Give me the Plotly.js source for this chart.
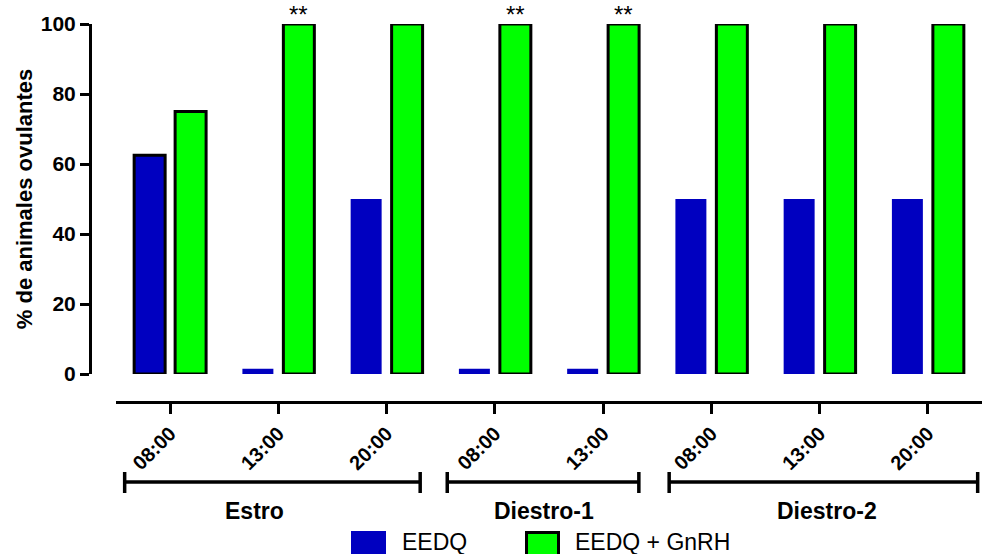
<!DOCTYPE html>
<html>
<head>
<meta charset="utf-8">
<script src="https://cdn.plot.ly/plotly-3.0.1.min.js"></script>
<style>
  html, body { margin: 0; padding: 0; background: #fff; }
  #chart { width: 982px; height: 554px; }
</style>
</head>
<body>
<div id="chart"></div>
<script>
// Time of day for each sampled group
const timeLabels = ['08:00', '13:00', '20:00', '08:00', '13:00', '08:00', '13:00', '20:00'];
// Cycle stage each time point belongs to
const stageNames = ['Estro', 'Diestro-1', 'Diestro-2'];
const stageSizes = [3, 2, 3];
// % of ovulating animals
const eedq      = [62.5, 1.5, 50, 1.5, 1.5, 50, 50, 50];
const eedqGnrh  = [75, 100, 100, 100, 100, 100, 100, 100];
// Significance marks over the EEDQ + GnRH bars
const signif    = ['', '**', '', '**', '**', '', '', ''];

const seriesNames = ['EEDQ', 'EEDQ + GnRH'];
const BLUE = '#0000C0';
const GREEN = '#00FF00';
const FONT = 'Arial, "Liberation Sans", sans-serif';

const xIdx = timeLabels.map((_, i) => i);

const traces = [
  {
    type: 'bar', name: seriesNames[0], x: xIdx, y: eedq,
    marker: { color: BLUE, line: { color: '#000', width: eedq.map((_, i) => i === 0 ? 3 : 0) } },
    hoverinfo: 'y'
  },
  {
    type: 'bar', name: seriesNames[1], x: xIdx, y: eedqGnrh,
    marker: { color: GREEN, line: { color: '#000', width: 3 } },
    hoverinfo: 'y'
  }
];

// pixel helpers for the paper-anchored decorations (plot area: x 90..982, y 20..402)
const L = 90, R = 982, T = 20, B = 402;
const px = v => (v - L) / (R - L);
const py = v => (B - v) / (B - T);

// stage brackets under the time labels
const bracketSpan = [[-0.42, 2.31], [2.56, 4.33], [4.61, 7.46]];
const stageLabelX = [0.78, 3.45, 6.07];
const shapes = [];
const annotations = [];
stageNames.forEach((name, g) => {
  const [a, b] = bracketSpan[g];
  const line = { color: '#000', width: 3.5 };
  shapes.push({ type: 'line', xref: 'x', yref: 'paper', x0: a, x1: b, y0: py(482), y1: py(482), line });
  shapes.push({ type: 'line', xref: 'x', yref: 'paper', x0: a, x1: a, y0: py(472), y1: py(493), line });
  shapes.push({ type: 'line', xref: 'x', yref: 'paper', x0: b, x1: b, y0: py(472), y1: py(493), line });
  annotations.push({
    xref: 'x', yref: 'paper', x: stageLabelX[g], y: py(511), text: '<b>' + name + '</b>',
    showarrow: false, xanchor: 'center', yanchor: 'middle',
    font: { family: FONT, size: 23, color: '#000' }
  });
});

// significance stars
signif.forEach((s, i) => {
  if (!s) return;
  annotations.push({
    xref: 'x', yref: 'y', x: i + 0.19, y: eedqGnrh[i], text: s,
    showarrow: false, xanchor: 'center', yanchor: 'bottom', yshift: -6,
    font: { family: FONT, size: 24, color: '#000' }
  });
});

// legend drawn as swatches + text
shapes.push({ type: 'rect', xref: 'paper', yref: 'paper', x0: px(351), x1: px(386), y0: py(531), y1: py(556),
  fillcolor: BLUE, line: { width: 0 } });
shapes.push({ type: 'rect', xref: 'paper', yref: 'paper', x0: px(526.5), x1: px(558.5), y0: py(532.5), y1: py(556),
  fillcolor: GREEN, line: { color: '#000', width: 3 } });
annotations.push({ xref: 'paper', yref: 'paper', x: px(400), y: py(542), text: seriesNames[0],
  showarrow: false, xanchor: 'left', yanchor: 'middle', font: { family: FONT, size: 23, color: '#000' } });
annotations.push({ xref: 'paper', yref: 'paper', x: px(573), y: py(542), text: seriesNames[1],
  showarrow: false, xanchor: 'left', yanchor: 'middle', font: { family: FONT, size: 23, color: '#000' } });

const layout = {
  width: 982, height: 554,
  margin: { l: L, r: 982 - R, t: T, b: 554 - B, pad: 0 },
  paper_bgcolor: '#fff', plot_bgcolor: '#fff',
  showlegend: false,
  barmode: 'group', bargap: 0.243, bargroupgap: 0.244,
  font: { family: FONT, color: '#000' },
  xaxis: {
    domain: [px(116), 1], anchor: 'free', position: 0,
    range: [-0.5, 7.5], tickmode: 'array', tickvals: xIdx, ticktext: timeLabels.map(t => '<b>' + t + '</b>'),
    tickangle: -45, tickfont: { family: FONT, size: 20, color: '#000' },
    ticks: 'outside', ticklen: 10, tickwidth: 3, tickcolor: '#000',
    showline: true, linecolor: '#000', linewidth: 3,
    showgrid: false, zeroline: false, fixedrange: true
  },
  yaxis: {
    domain: [py(374), py(24)], anchor: 'free', position: 0,
    range: [0, 100], tickvals: [0, 20, 40, 60, 80, 100],
    ticktext: ['0', '20', '40', '60', '80', '100'].map(t => '<b>' + t + '</b>'),
    tickfont: { family: FONT, size: 21, color: '#000' },
    ticks: 'outside', ticklen: 9, tickwidth: 3, tickcolor: '#000',
    showline: true, linecolor: '#000', linewidth: 3,
    showgrid: false, zeroline: false, fixedrange: true,
    title: { text: '<b>% de animales ovulantes</b>', font: { family: FONT, size: 22, color: '#000' }, standoff: 1 }
  },
  shapes, annotations
};

Plotly.newPlot('chart', traces, layout, { displayModeBar: false, staticPlot: true });
</script>
</body>
</html>
